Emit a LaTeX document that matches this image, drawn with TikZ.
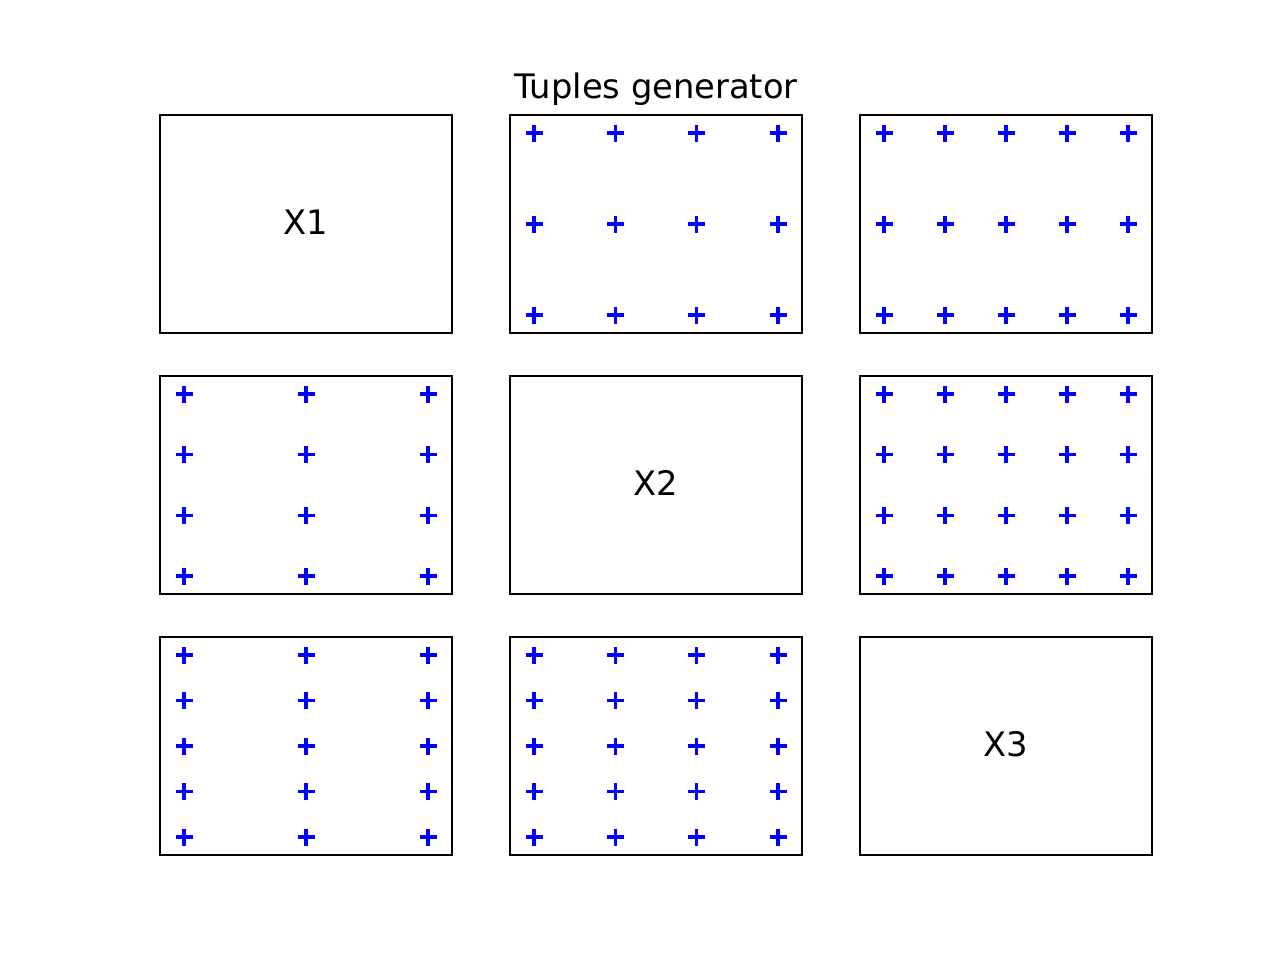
\documentclass[tikz,border=0pt]{standalone}
\usepackage{fontspec}
\setmainfont{DejaVu Sans}
\begin{document}
\begin{tikzpicture}[x=0.02cm,y=-0.02cm,
  panel/.style={draw=black,line width=1.13pt,anchor=north west,minimum width=292*0.02cm,minimum height=218*0.02cm,inner sep=0pt},
  pmark/.style={draw=blue,line width=1.9pt},
  lbl/.style={font=\fontsize{19.2}{22}\selectfont,anchor=base,inner sep=0pt}]
\useasboundingbox (0,0) rectangle (1280,960);
\newcommand\markgrid[4]{%
  \foreach \i in {1,...,#3}{%
    \foreach \j in {1,...,#4}{%
      \pgfmathsetmacro\px{#1+24+(\i-1)*244/(#3-1)}%
      \pgfmathsetmacro\py{#2+18+(\j-1)*182/(#4-1)}%
      \draw[pmark] (\px-8.5,\py) -- (\px+8.5,\py) (\px,\py-8.5) -- (\px,\py+8.5);
    }}}
% panels
\node[panel] (p11) at (159.3,114.3) {};
\node[panel] (p12) at (509.3,114.3) {};
\node[panel] (p13) at (859.3,114.3) {};
\node[panel] (p21) at (159.3,375.3) {};
\node[panel] (p22) at (509.3,375.3) {};
\node[panel] (p23) at (859.3,375.3) {};
\node[panel] (p31) at (159.3,636.3) {};
\node[panel] (p32) at (509.3,636.3) {};
\node[panel] (p33) at (859.3,636.3) {};
% markers
\markgrid{510}{115}{4}{3}
\markgrid{860}{115}{5}{3}
\markgrid{160}{376}{3}{4}
\markgrid{860}{376}{5}{4}
\markgrid{160}{637}{3}{5}
\markgrid{510}{637}{4}{5}
% labels
\node[lbl] (title) at (656,98) {Tuples generator};
\node[lbl] (x1) at (306,234) {X1};
\node[lbl] (x2) at (656,495) {X2};
\node[lbl] (x3) at (1006,756) {X3};
\end{tikzpicture}
\end{document}
